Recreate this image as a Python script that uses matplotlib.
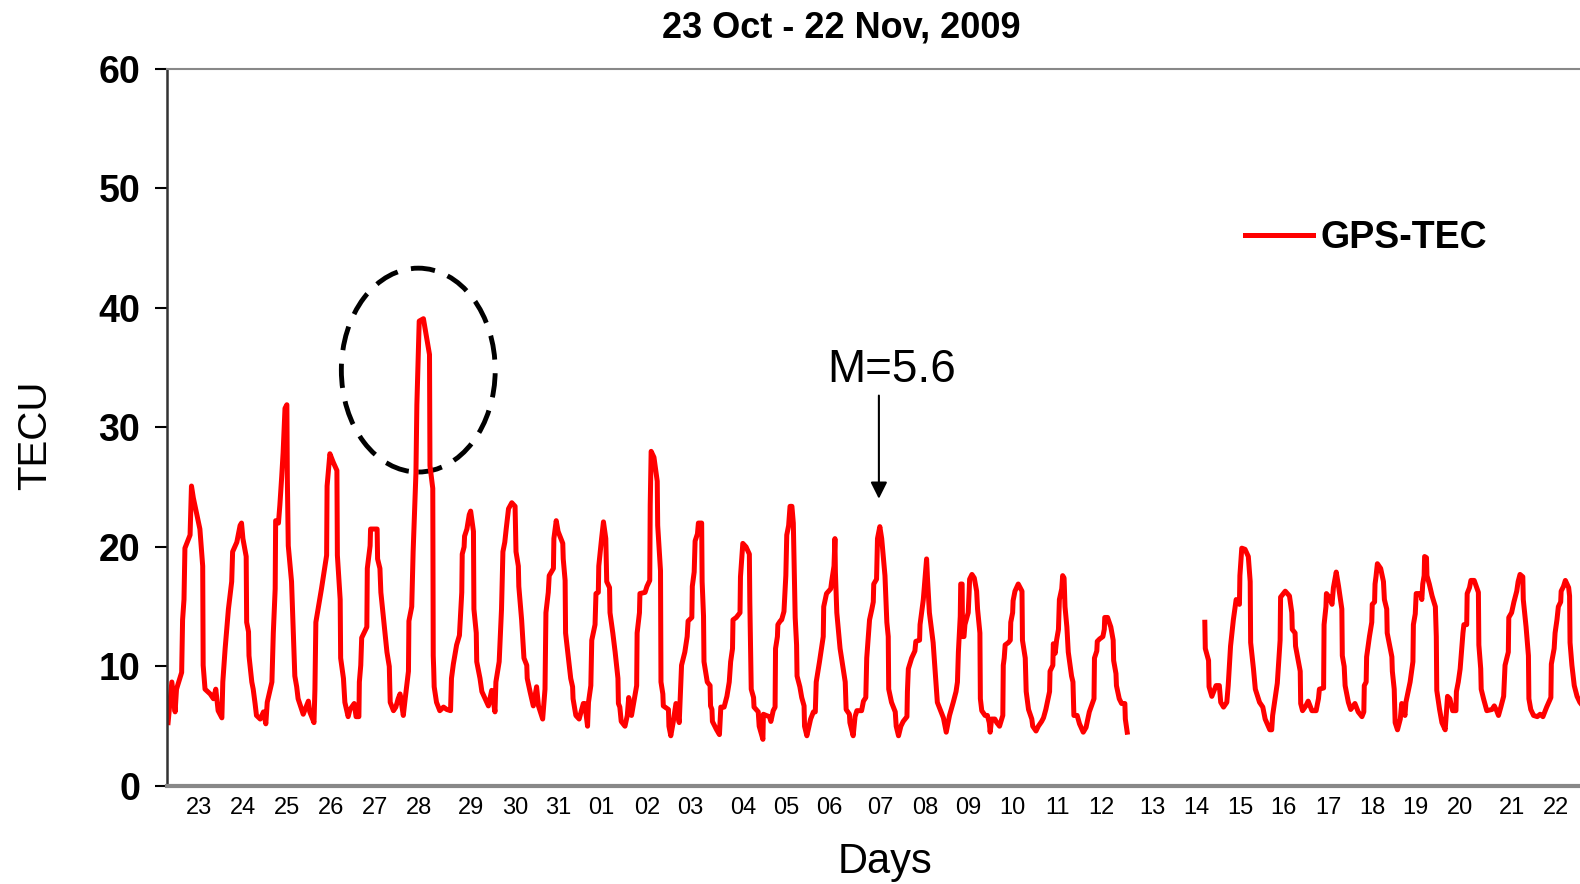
import matplotlib
matplotlib.use('Agg')
from matplotlib import pyplot as plt
from matplotlib.patches import Ellipse

# days counted from 23 Oct 00 UT, values in TECU
seg1_day = [0.03, 0.11, 0.18, 0.21, 0.32, 0.34, 0.37, 0.39, 0.50, 0.53, 0.57, 0.71, 0.77, 0.78, 0.82, 0.93,
            1.00, 1.05, 1.10, 1.18, 1.20, 1.25, 1.32, 1.39, 1.41, 1.50, 1.57, 1.60, 1.63, 1.70, 1.71, 1.75,
            1.76, 1.82, 1.85, 1.89, 1.92,
            2.00, 2.07, 2.12, 2.15, 2.25, 2.28, 2.32, 2.33, 2.39, 2.42, 2.46, 2.49, 2.53, 2.57, 2.58, 2.60,
            2.67, 2.74, 2.78, 2.81, 2.92,
            3.03, 3.06, 3.15, 3.17, 3.19, 3.31, 3.42, 3.43, 3.49, 3.56, 3.64, 3.65, 3.71, 3.72, 3.78, 3.81,
            3.88, 3.92,
            4.01, 4.05, 4.11, 4.12, 4.15, 4.17, 4.28, 4.29, 4.35, 4.36, 4.50, 4.51, 4.56, 4.58, 4.67, 4.71,
            4.76, 4.78, 4.85, 4.90, 4.95, 4.99,
            5.03, 5.06, 5.10, 5.17, 5.18, 5.24, 5.27, 5.33, 5.35, 5.40, 5.49, 5.56, 5.62, 5.63, 5.69, 5.70,
            5.71, 5.72, 5.77, 5.84, 5.92, 5.99,
            6.07, 6.09, 6.13, 6.20, 6.26, 6.31, 6.32, 6.36, 6.37, 6.42, 6.47, 6.50, 6.56, 6.57, 6.62, 6.63,
            6.70, 6.74, 6.81, 6.88, 6.95,
            7.02, 7.04, 7.11, 7.16, 7.19, 7.23, 7.26, 7.31, 7.38, 7.45, 7.47, 7.52, 7.53, 7.59, 7.64, 7.70,
            7.71, 7.77, 7.84, 7.91, 7.95,
            8.04, 8.09, 8.11, 8.16, 8.18, 8.27, 8.28, 8.33, 8.37, 8.47, 8.48, 8.52, 8.53, 8.59, 8.64, 8.68,
            8.69, 8.75, 8.82, 8.91, 8.94,
            9.00, 9.02, 9.07, 9.09, 9.16, 9.18, 9.23, 9.24, 9.30, 9.34, 9.39, 9.41, 9.47, 9.48, 9.54, 9.59,
            9.65, 9.66, 9.69, 9.72, 9.80, 9.85, 9.88, 9.94,
            10.05, 10.06, 10.11, 10.12, 10.23, 10.27, 10.33, 10.34, 10.36, 10.42, 10.49, 10.50, 10.56, 10.57,
            10.61, 10.62, 10.73, 10.74, 10.78, 10.83, 10.89, 10.96,
            11.01, 11.08, 11.13, 11.15, 11.23, 11.24, 11.28, 11.30, 11.35, 11.37, 11.44, 11.45, 11.48, 11.49,
            11.56, 11.62, 11.63, 11.66, 11.67, 11.76, 11.82, 11.85, 11.92, 11.98,
            12.03, 12.06, 12.10, 12.11, 12.18, 12.26, 12.27, 12.32, 12.39, 12.46, 12.47, 12.50, 12.55, 12.56,
            12.65, 12.67, 12.75, 12.76, 12.82, 12.89, 12.92, 12.97,
            13.01, 13.02, 13.06, 13.07, 13.12, 13.15, 13.20, 13.24, 13.26, 13.30, 13.33, 13.37, 13.40, 13.44,
            13.47, 13.48, 13.54, 13.58, 13.63, 13.64, 13.69, 13.77, 13.83, 13.87, 13.89, 13.96,
            14.04, 14.05, 14.11, 14.20, 14.22, 14.27, 14.29, 14.30, 14.33, 14.40, 14.51, 14.53, 14.60, 14.61,
            14.68, 14.72, 14.76, 14.86, 14.90, 14.95, 14.97,
            15.03, 15.08, 15.11, 15.12, 15.18, 15.20, 15.25, 15.29, 15.36, 15.40, 15.43, 15.44, 15.50, 15.58,
            15.60, 15.65, 15.70, 15.75, 15.83, 15.84, 15.86, 15.93,
            16.00, 16.02, 16.10, 16.11, 16.18, 16.22, 16.25, 16.27, 16.31, 16.39, 16.43, 16.48, 16.54, 16.61,
            16.67, 16.74, 16.82, 16.88, 16.91, 16.93, 16.97, 16.98,
            17.01, 17.02, 17.05, 17.07, 17.14, 17.16, 17.17, 17.22, 17.27, 17.32, 17.34, 17.39, 17.40, 17.43,
            17.50, 17.55, 17.59, 17.61, 17.64, 17.71, 17.75, 17.81, 17.88, 17.89, 17.91, 17.93,
            18.00, 18.04, 18.05, 18.09, 18.10, 18.14, 18.21, 18.29, 18.30, 18.36, 18.38, 18.43, 18.50, 18.52,
            18.59, 18.64, 18.71, 18.75, 18.80, 18.88, 18.89, 18.95, 18.96,
            19.00, 19.03, 19.07, 19.09, 19.14, 19.16, 19.19, 19.21, 19.25, 19.28, 19.35, 19.38, 19.40, 19.47,
            19.52, 19.60, 19.66, 19.73, 19.83, 19.84, 19.89, 19.90, 19.95,
            20.02, 20.05, 20.06, 20.12, 20.19, 20.24, 20.25, 20.30, 20.31, 20.37, 20.42, 20.49, 20.50, 20.54]
seg1_tec = [5.3, 8.7, 6.2, 8.1, 9.5, 13.9, 15.6, 19.9, 21.0, 25.1, 24.1, 21.5, 18.4, 10.1, 8.1, 7.7,
            7.3, 8.1, 6.3, 5.7, 8.7, 11.5, 14.8, 17.1, 19.6, 20.4, 21.8, 22.0, 20.7, 19.2, 13.7, 12.9,
            10.9, 8.7, 8.1, 6.9, 5.9,
            5.6, 6.2, 5.2, 7.0, 8.7, 12.8, 16.5, 22.2, 22.0, 23.5, 25.9, 27.9, 31.6, 31.9, 25.7, 20.1,
            17.1, 9.2, 8.3, 7.3, 6.0,
            7.1, 6.2, 5.3, 8.1, 13.7, 16.5, 19.3, 25.1, 27.8, 27.1, 26.4, 19.3, 15.6, 10.7, 9.0, 7.0,
            5.8, 6.4,
            6.9, 5.8, 5.8, 8.7, 10.1, 12.4, 13.3, 18.2, 20.1, 21.5, 21.5, 19.0, 18.2, 16.2, 12.8, 11.2,
            10.0, 7.0, 6.3, 6.6, 7.3, 7.7,
            6.7, 5.9, 7.3, 9.6, 13.8, 15.0, 19.6, 26.2, 31.9, 38.9, 39.1, 37.5, 36.1, 26.8, 24.9, 10.9,
            9.8, 8.3, 7.0, 6.3, 6.6, 6.4,
            6.3, 9.0, 10.2, 11.8, 12.6, 16.2, 19.4, 20.0, 20.9, 21.5, 22.7, 23.0, 21.3, 14.8, 12.8, 10.4,
            9.0, 7.9, 7.3, 6.7, 8.0,
            6.2, 8.7, 10.4, 14.8, 19.6, 20.4, 21.5, 23.2, 23.7, 23.4, 19.6, 18.4, 16.7, 13.9, 10.7, 10.1,
            9.0, 7.9, 6.7, 8.3, 6.7,
            5.6, 8.1, 14.5, 16.2, 17.6, 18.2, 20.7, 22.2, 21.3, 20.3, 19.0, 17.2, 12.8, 10.7, 9.0, 8.3,
            7.3, 5.9, 5.6, 6.9, 6.9,
            5.0, 7.0, 8.4, 12.2, 13.5, 16.1, 16.2, 18.4, 20.7, 22.1, 20.7, 17.1, 16.6, 14.5, 12.8, 11.2,
            9.0, 6.9, 6.6, 5.4, 5.0, 5.9, 7.4, 5.9,
            8.4, 12.8, 14.5, 16.1, 16.2, 16.7, 17.2, 23.5, 28.0, 27.5, 25.5, 21.8, 18.0, 8.7,
            7.7, 6.7, 6.4, 5.0, 4.2, 5.3, 6.9, 5.3,
            10.1, 11.2, 12.5, 13.8, 14.1, 16.7, 17.9, 20.5, 21.1, 22.0, 22.0, 17.1, 14.2, 10.4,
            8.7, 8.4, 6.7, 6.4, 5.4, 4.7, 4.3, 6.6, 6.6, 7.5,
            8.7, 10.4, 11.5, 13.9, 14.1, 14.5, 17.5, 20.3, 20.0, 19.4, 15.4, 8.1, 7.4, 6.6,
            6.2, 5.0, 3.9, 6.0, 5.9, 5.8, 5.4, 6.3,
            6.6, 11.5, 12.5, 13.5, 13.8, 13.9, 14.6, 17.6, 21.0, 21.8, 23.4, 23.4, 22.0, 14.1,
            11.8, 9.2, 8.3, 7.4, 6.7, 5.0, 4.2, 5.6, 6.2, 6.2, 8.7, 10.4,
            12.5, 15.0, 16.1, 16.5, 17.1, 18.4, 20.7, 17.9, 14.5, 11.5, 8.7, 6.4, 6.0, 5.3,
            4.2, 5.8, 6.3, 6.3, 7.1, 7.4, 10.7,
            13.9, 14.8, 15.4, 16.9, 17.3, 20.7, 21.7, 20.7, 17.6, 13.7, 12.5, 8.1, 7.0, 6.2,
            5.0, 4.2, 5.0, 5.4, 5.8, 7.9, 9.8, 10.7,
            11.3, 12.1, 12.2, 13.5, 15.6, 17.6, 19.0, 17.3, 14.5, 12.0, 9.8, 7.0, 6.4, 5.7,
            4.5, 5.9, 7.0, 7.9, 8.7, 11.2, 14.2, 16.9,
            16.9, 12.5, 12.5, 13.5, 14.5, 16.2, 17.3, 17.7, 17.4, 16.3, 14.8, 12.8, 7.3, 6.3,
            5.9, 5.9, 5.3, 4.5, 5.6, 5.6, 5.3, 5.0, 5.9, 10.1, 10.7, 11.8,
            12.0, 12.2, 13.7, 14.5, 15.5, 16.3, 16.9, 16.3, 12.2, 10.7, 7.9, 6.4, 5.6, 5.0,
            4.6, 5.0, 5.4, 5.7, 6.4, 7.9, 9.6, 10.1, 11.9,
            11.1, 12.2, 13.1, 15.6, 16.5, 17.6, 17.4, 15.0, 13.3, 11.2, 9.2, 8.7, 5.9, 5.9,
            5.2, 4.5, 4.9, 6.2, 7.3, 10.7, 11.3, 12.1, 12.3,
            12.5, 13.1, 14.1, 14.1, 13.3, 12.2, 10.5, 9.4, 8.4, 7.3, 6.9, 6.9, 5.6, 4.5]

# data resumes on 14 Nov
seg2_day = [22.20, 22.21, 22.28, 22.29, 22.35, 22.44, 22.51, 22.54, 22.60, 22.67, 22.70, 22.75, 22.81, 22.87,
            22.94, 22.95, 22.99,
            23.06, 23.13, 23.17, 23.18, 23.24, 23.28, 23.37, 23.44, 23.49, 23.59, 23.63, 23.65, 23.75, 23.81,
            23.82, 23.92,
            24.01, 24.06, 24.07, 24.13, 24.14, 24.24, 24.25, 24.29, 24.36, 24.41, 24.49, 24.58, 24.63, 24.65,
            24.74, 24.75, 24.79, 24.80, 24.86, 24.92, 24.95,
            25.01, 25.06, 25.13, 25.14, 25.18, 25.20, 25.27, 25.32, 25.41, 25.48, 25.56, 25.60, 25.61, 25.65,
            25.66, 25.72, 25.77, 25.78, 25.83, 25.84, 25.86, 25.89, 25.96,
            26.02, 26.04, 26.09, 26.10, 26.20, 26.21, 26.25, 26.27, 26.32, 26.38, 26.41, 26.48, 26.50, 26.59,
            26.65, 26.66, 26.70, 26.72, 26.81, 26.84, 26.86, 26.89, 26.90, 26.94, 26.95,
            27.00, 27.06, 27.13, 27.15, 27.16, 27.22, 27.27, 27.34, 27.39, 27.44, 27.50, 27.57, 27.58, 27.62,
            27.66, 27.72, 27.74, 27.80, 27.81, 27.86, 27.89, 27.96,
            28.05, 28.06, 28.10, 28.11, 28.16, 28.23, 28.34, 28.39, 28.44, 28.48, 28.53, 28.59, 28.62, 28.69,
            28.70, 28.76, 28.81, 28.87, 28.90, 28.94,
            29.00, 29.01, 29.07, 29.12, 29.13, 29.17, 29.23, 29.31, 29.37, 29.43, 29.51, 29.60, 29.61, 29.67,
            29.69, 29.73, 29.76, 29.81, 29.82, 29.87, 29.91, 29.98,
            30.00, 30.01, 30.05, 30.10, 30.16, 30.22, 30.30]
seg2_tec = [13.7, 11.5, 10.5, 8.3, 7.5, 8.4, 8.4, 7.0, 6.6, 7.0, 8.4, 11.7, 13.9, 15.6,
            15.2, 17.6, 19.9,
            19.8, 19.2, 17.1, 12.0, 9.8, 8.1, 7.0, 6.6, 5.6, 4.7, 4.7, 5.9, 8.6, 12.2,
            15.8, 16.3,
            15.9, 14.5, 13.1, 12.8, 11.7, 9.6, 6.9, 6.3, 6.7, 7.1, 6.3, 6.3, 7.3, 8.1,
            8.2, 13.5, 15.0, 16.1, 15.8, 15.2, 16.6,
            17.9, 16.7, 14.8, 10.9, 10.0, 8.4, 7.0, 6.4, 6.9, 6.2, 5.8, 6.2, 8.4, 8.7,
            10.8, 12.5, 13.7, 15.2, 15.4, 16.9, 17.5, 18.6, 18.2,
            17.1, 15.6, 14.8, 12.8, 10.8, 9.6, 8.1, 5.3, 4.7, 5.6, 6.9, 5.9, 7.0, 8.7,
            10.4, 13.5, 14.4, 16.1, 16.1, 15.6, 16.9, 17.6, 19.2, 19.1, 17.6,
            16.9, 15.9, 15.0, 12.5, 8.0, 6.4, 5.3, 4.7, 7.5, 7.3, 6.3, 6.3, 7.9, 8.7,
            9.8, 12.8, 13.5, 13.5, 16.1, 16.6, 17.2, 17.2,
            16.2, 11.8, 9.8, 8.1, 7.3, 6.3, 6.4, 6.7, 6.3, 5.9, 6.6, 7.5, 10.1, 11.2,
            14.1, 14.5, 15.4, 16.3, 17.1, 17.7,
            17.5, 15.6, 13.3, 10.9, 7.3, 6.4, 5.9, 5.8, 6.0, 5.8, 6.6, 7.4, 10.2, 11.5,
            12.8, 13.9, 15.0, 15.4, 16.3, 16.7, 17.2, 16.6,
            15.9, 12.0, 10.1, 8.4, 7.5, 7.0, 6.6]

day_labels = ['23', '24', '25', '26', '27', '28', '29', '30', '31', '01', '02', '03', '04', '05', '06', '07',
              '08', '09', '10', '11', '12', '13', '14', '15', '16', '17', '18', '19', '20', '21', '22']
day_label_pos = [0.70, 1.63, 2.58, 3.52, 4.45, 5.40, 6.50, 7.45, 8.37, 9.30, 10.27, 11.20, 12.32, 13.24,
                 14.17, 15.27, 16.22, 17.14, 18.09, 19.04, 19.99, 21.07, 22.01, 22.96, 23.89, 24.84, 25.78,
                 26.71, 27.66, 28.76, 29.71]

FONT = ['Liberation Sans', 'DejaVu Sans']

figure = plt.figure(figsize=(15.8, 8.84), dpi=100)
axes = figure.add_axes([0.1055, 0.1109, 0.9175, 0.8111])

axes.plot(seg1_day, seg1_tec, color='#ff0000', linewidth=3.6, solid_joinstyle='round', label='GPS-TEC')
axes.plot(seg2_day, seg2_tec, color='#ff0000', linewidth=3.6, solid_joinstyle='round')

axes.set_xlim(0, 31)
axes.set_ylim(0, 60)
axes.set_yticks(range(0, 61, 10))
axes.set_xticks(day_label_pos)
axes.set_xticklabels(day_labels, family=FONT, fontsize=17)
for label in axes.get_yticklabels():
    label.set_family(FONT)
    label.set_fontweight('bold')
    label.set_fontsize(27)
axes.tick_params(axis='x', length=0, pad=8)
axes.tick_params(axis='y', direction='out', length=9, width=1.5, pad=10)

axes.spines['left'].set_color('#333333')
axes.spines['left'].set_linewidth(1.8)
axes.spines['bottom'].set_color('#888888')
axes.spines['bottom'].set_linewidth(3)
axes.spines['top'].set_color('#888888')
axes.spines['top'].set_linewidth(1.5)
axes.spines['right'].set_visible(False)

# dashed ring round the 28 Oct enhancement
ring = Ellipse((5.38, 34.8), 3.29, 17.06, fill=False, edgecolor='black', linewidth=3.5,
               linestyle=(0, (5, 2.8)))
axes.add_patch(ring)

# earthquake marker
axes.annotate('', xy=(15.23, 23.8), xytext=(15.23, 32.9),
              arrowprops=dict(arrowstyle='-|>', color='black', linewidth=1.5, mutation_scale=25))
axes.text(15.51, 33.8, 'M=5.6', ha='center', va='baseline', fontsize=33, family=FONT)

legend = axes.legend(loc='center left', bbox_to_anchor=(1245 / 1580, 1 - 238 / 884),
                     bbox_transform=figure.transFigure, frameon=False, handlelength=1.81,
                     handletextpad=0.19, borderpad=0, borderaxespad=0,
                     prop={'family': FONT, 'weight': 'bold', 'size': 27})

figure.text(0.5325, 0.968, '23 Oct - 22 Nov, 2009', ha='center', va='center', fontsize=26,
            fontweight='bold', family=FONT)
figure.text(0.5603, 0.0129, 'Days', ha='center', va='baseline', fontsize=30, family=FONT)
figure.text(0.0223, 0.5076, 'TECU', ha='center', va='center', rotation=90, fontsize=29, family=FONT)

figure.savefig('out.png', dpi=100)
